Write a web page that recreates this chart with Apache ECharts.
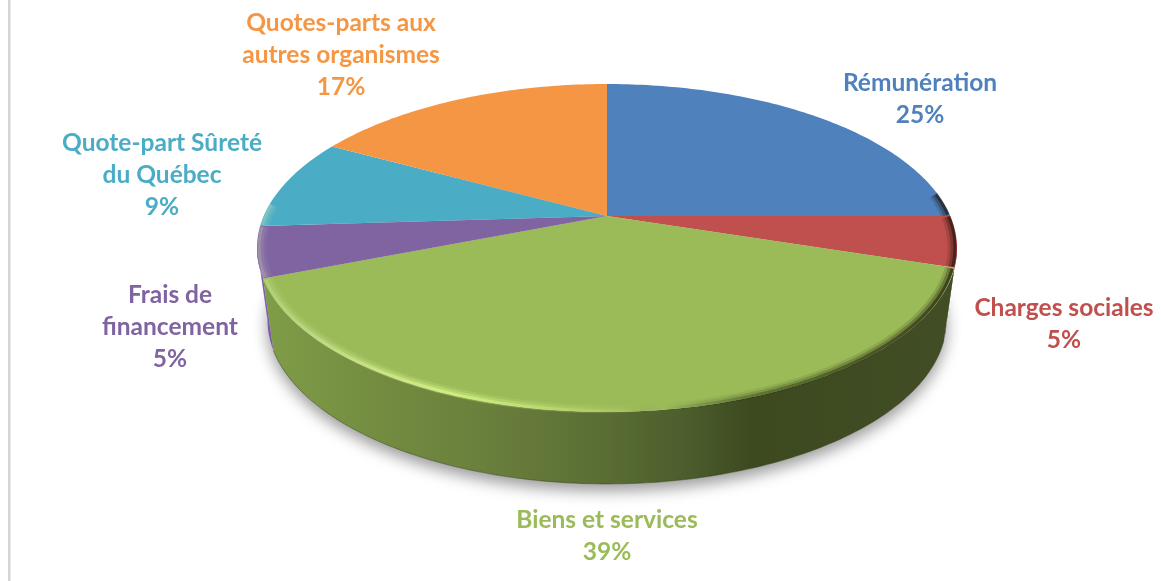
<!DOCTYPE html>
<html>
<head>
<meta charset="utf-8">
<style>html,body{margin:0;padding:0;background:#fff}#c{width:1161px;height:581px}</style>
<script src="https://cdn.jsdelivr.net/npm/echarts@6/dist/echarts.min.js"></script>
</head>
<body>
<div id="c"></div>
<script>
// --- data ---
const categories = ['Rémunération','Charges sociales','Biens et services','Frais de\nfinancement','Quote-part Sûreté\ndu Québec','Quotes-parts aux\nautres organismes'];
const shares = [25,5,39,5,9,17];
const colors = ['#4f81bd','#c0504d','#9bbb59','#8064a2','#4bacc6','#f49644'];
// --- layout ---
const labelCenters = [[920,99],[1064,324],[607,536],[170,327],[162,175],[341,55]];
const CX=607, CY=216, A=343.3, B=157.7, K=0.195, DEPTH=72, BASE_SCALE=0.97;
const SIL_R=101.2, SIL_L=258.8; // silhouette angles of the tilted disc
const BEVEL_FROM=82, BEVEL_TO=274; // bevel only shows on the near part of the rim
const wallFills = [
  null,
  '#5c1f1e',
  {type:'linear',x:267,y:0,x2:947,y2:0,global:true,colorStops:[
    {offset:0,color:'#7f9c47'},{offset:0.2,color:'#71893f'},{offset:0.36,color:'#677c3b'},
    {offset:0.5,color:'#596d34'},{offset:0.62,color:'#4b5d2c'},{offset:0.71,color:'#3d4a20'},{offset:1,color:'#414d24'}]},
  '#7b5ea6', null, null
];
const total = shares.reduce((a,b)=>a+b,0);
const starts = []; shares.reduce((acc,v,i)=>{starts[i]=acc/total*360;return acc+v;},0);

function rimPt(deg,scale){
  const r=deg*Math.PI/180,u=Math.sin(r),v=Math.cos(r),s=1/(1+K*v);
  const f=scale==null?1:scale;
  return [CX+A*u*s*f, CY-B*v*s*f];
}
function basePt(deg){
  const p=rimPt(deg);
  return [CX+(p[0]-CX)*BASE_SCALE, p[1]+DEPTH];
}
function arc(fn,d0,d1){
  const pts=[],n=Math.max(2,Math.ceil(Math.abs(d1-d0)));
  for(let i=0;i<=n;i++) pts.push(fn(d0+(d1-d0)*i/n));
  return pts;
}
function renderWalls(params,api){
  const i=params.dataIndex,kids=[];
  if(i===0){
    kids.push({type:'polygon',shape:{points:arc(basePt,0,360)},
      style:{fill:'#d8d8d8',shadowBlur:15,shadowOffsetY:7,shadowColor:'rgba(0,0,0,0.4)'}});
  }
  const d0=starts[i],d1=d0+api.value(0)/total*360;
  const a=Math.max(d0,SIL_R),b=Math.min(d1,SIL_L);
  if(b>a&&wallFills[i]){
    const pts=arc(rimPt,a,b).concat(arc(basePt,b,a));
    kids.push({type:'polygon',shape:{points:pts},style:{fill:wallFills[i]}});
    if(i===2) kids.push({type:'polyline',shape:{points:arc(basePt,a,b)},style:{fill:null,stroke:'rgba(50,60,20,0.5)',lineWidth:1}});
  }
  return {type:'group',children:kids};
}
function bevelGradient(k){
  return {type:'linear',x:260,y:0,x2:955,y2:0,global:true,colorStops:[
    {offset:0,color:'rgba(235,255,190,'+0.22*k+')'},{offset:0.27,color:'rgba(225,255,140,'+0.75*k+')'},
    {offset:0.52,color:'rgba(225,255,140,'+0.1*k+')'},{offset:0.58,color:'rgba(0,0,0,0)'},
    {offset:0.72,color:'rgba(25,35,5,'+0.4*k+')'},{offset:1,color:'rgba(25,15,5,'+0.7*k+')'}]};
}
const bevelLayers=[[0.986,9,0.22],[0.99,6,0.4],[0.994,3,0.75]];
function renderTops(params,api){
  const i=params.dataIndex,val=api.value(0);
  const d0=starts[i],d1=d0+val/total*360;
  const kids=[
    {type:'polygon',shape:{points:[[CX,CY]].concat(arc(rimPt,d0,d1))},style:{fill:colors[i]}}
  ];
  const a=Math.max(d0+0.3,BEVEL_FROM),b=Math.min(d1-0.3,BEVEL_TO);
  if(b>a){
    bevelLayers.forEach(l=>{
      kids.push({type:'polyline',shape:{points:arc(d=>rimPt(d,l[0]),a,b)},
        style:{fill:null,stroke:bevelGradient(l[2]),lineWidth:l[1],lineCap:'butt'}});
    });
  }
  kids.push({type:'text',style:{text:categories[i]+'\n'+val+'%',x:labelCenters[i][0],y:labelCenters[i][1],
    fill:colors[i],fontFamily:'Lato',fontWeight:'bold',fontSize:24.5,align:'center',verticalAlign:'middle',lineHeight:32.3}});
  return {type:'group',children:kids};
}
const chart=echarts.init(document.getElementById('c'),null,{renderer:'canvas'});
const seriesData=shares.map((v,i)=>({name:categories[i],value:[v]}));
chart.setOption({
  animation:false,
  backgroundColor:'#fff',
  graphic:[{type:'rect',left:8,top:0,shape:{width:2.5,height:581},style:{fill:'#d4d4d4'},silent:true}],
  series:[
    {type:'custom',name:'Parois',coordinateSystem:'none',renderItem:renderWalls,data:seriesData,silent:true,z:1},
    {type:'custom',name:'Répartition',coordinateSystem:'none',renderItem:renderTops,data:seriesData,silent:true,z:2}
  ]
});
</script>
</body>
</html>
